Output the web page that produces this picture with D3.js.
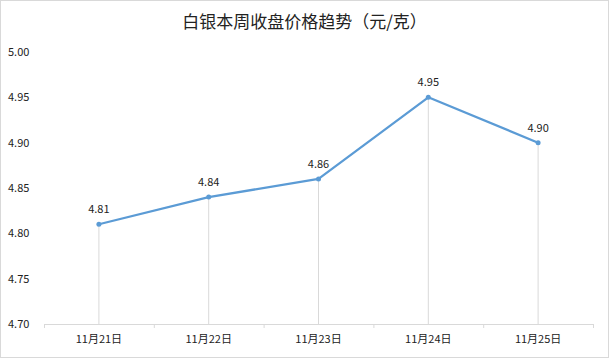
<!DOCTYPE html>
<html>
<head>
<meta charset="utf-8">
<script src="https://cdn.jsdelivr.net/npm/d3@7"></script>
<style>
  body { margin: 0; background: #fff; }
  svg { display: block; font-family: "Noto Sans CJK SC", "Noto Sans", sans-serif; }
</style>
</head>
<body>
<div id="chart"></div>
<script>
const dates = ["11月21日", "11月22日", "11月23日", "11月24日", "11月25日"];
const prices = [4.81, 4.84, 4.86, 4.95, 4.90];
const yTicks = [4.70, 4.75, 4.80, 4.85, 4.90, 4.95, 5.00];

const width = 609, height = 358;
const margin = { top: 52, right: 16, bottom: 34, left: 44 };
const innerW = width - margin.left - margin.right;
const innerH = height - margin.top - margin.bottom;

const svg = d3.select("#chart").append("svg")
  .attr("width", width)
  .attr("height", height);

// chart border
svg.append("rect")
  .attr("x", 0.5).attr("y", 0.5)
  .attr("width", width - 1).attr("height", height - 1)
  .attr("fill", "#fff")
  .attr("stroke", "#d9d9d9");

svg.append("text")
  .attr("x", width / 2)
  .attr("y", 28)
  .attr("text-anchor", "middle")
  .attr("font-size", "17px")
  .attr("fill", "#222")
  .text("白银本周收盘价格趋势（元/克）");

const g = svg.append("g").attr("transform", `translate(${margin.left},${margin.top})`);

const x = d3.scaleBand().domain(dates).range([0, innerW]);
const y = d3.scaleLinear().domain([4.70, 5.00]).range([innerH, 0]);

// y labels
g.selectAll(".ylab")
  .data(yTicks)
  .enter().append("text")
  .attr("class", "ylab")
  .attr("x", -36)
  .attr("y", d => y(d))
  .attr("dy", "0.35em")
  .attr("font-size", "11px")
  .attr("fill", "#222")
  .text(d => d.toFixed(2));

// drop lines
g.selectAll(".drop")
  .data(prices)
  .enter().append("line")
  .attr("class", "drop")
  .attr("x1", (d, i) => x(dates[i]) + x.bandwidth() / 2)
  .attr("x2", (d, i) => x(dates[i]) + x.bandwidth() / 2)
  .attr("y1", d => y(d))
  .attr("y2", innerH)
  .attr("stroke", "#d9d9d9")
  .attr("stroke-width", 1);

// x axis
const xAxis = g.append("g")
  .attr("transform", `translate(0,${innerH})`)
  .call(d3.axisBottom(x).tickSize(0).tickPadding(11));
xAxis.select(".domain").attr("stroke", "#d9d9d9");
xAxis.selectAll("text").attr("font-size", "11px").attr("fill", "#222")
  .attr("font-family", "\"Noto Sans CJK SC\", sans-serif");

// tick marks at band boundaries
const bounds = dates.map(d => x(d)).concat([innerW]);
g.selectAll(".btick")
  .data(bounds)
  .enter().append("line")
  .attr("class", "btick")
  .attr("x1", d => d + 0.5).attr("x2", d => d + 0.5)
  .attr("y1", innerH).attr("y2", innerH + 4)
  .attr("stroke", "#d9d9d9");

const line = d3.line()
  .x((d, i) => x(dates[i]) + x.bandwidth() / 2)
  .y(d => y(d));

g.append("path")
  .datum(prices)
  .attr("d", line)
  .attr("fill", "none")
  .attr("stroke", "#5b9bd5")
  .attr("stroke-width", 2.25)
  .attr("stroke-linejoin", "round");

g.selectAll(".pt")
  .data(prices)
  .enter().append("circle")
  .attr("class", "pt")
  .attr("cx", (d, i) => x(dates[i]) + x.bandwidth() / 2)
  .attr("cy", d => y(d))
  .attr("r", 2.5)
  .attr("fill", "#5b9bd5");

g.selectAll(".vlab")
  .data(prices)
  .enter().append("text")
  .attr("class", "vlab")
  .attr("x", (d, i) => x(dates[i]) + x.bandwidth() / 2)
  .attr("y", d => y(d) - 11)
  .attr("text-anchor", "middle")
  .attr("font-size", "11px")
  .attr("fill", "#222")
  .text(d => d.toFixed(2));
</script>
</body>
</html>
